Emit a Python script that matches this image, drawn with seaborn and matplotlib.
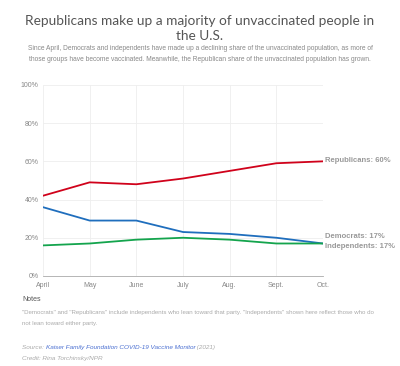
import matplotlib
matplotlib.use("Agg")
import matplotlib.pyplot as plt
import seaborn as sns
import pandas as pd

months = ["April", "May", "June", "July", "Aug.", "Sept.", "Oct."]
republicans = [42, 49, 48, 51, 55, 59, 60]
democrats = [36, 29, 29, 23, 22, 20, 17]
independents = [16, 17, 19, 20, 19, 17, 17]
series_names = ["Republicans", "Democrats", "Independents"]
colors = ["#d0021b", "#1f6ebd", "#14a44d"]
yticks = [0, 20, 40, 60, 80, 100]

rows = []
for name, vals in zip(series_names, [republicans, democrats, independents]):
    for i, (m, v) in enumerate(zip(months, vals)):
        rows.append({"idx": i, "month": m, "value": v, "party": name})
df = pd.DataFrame(rows)

sns.set_theme(style="white")
plt.rcParams['font.family'] = ['Liberation Sans', 'DejaVu Sans']

fig = plt.figure(figsize=(4, 3.66), dpi=100)
ax = fig.add_axes([0.1075, 0.246, 0.70, 0.522])

sns.lineplot(data=df, x="idx", y="value", hue="party", palette=dict(zip(series_names, colors)),
             linewidth=1.3, ax=ax, legend=False)

ax.set_xlim(0, len(months) - 1)
ax.set_ylim(0, 100)
ax.set_xticks(range(len(months)))
ax.set_xticklabels(months)
ax.set_yticks(yticks)
ax.set_yticklabels([f"{t}%" for t in yticks])
ax.tick_params(axis="both", labelsize=5, colors="#888888", length=0)
ax.tick_params(axis="x", pad=4)
ax.tick_params(axis="y", pad=3)
ax.grid(True, color="#eeeeee", linewidth=0.6)
for s in ["top", "right"]:
    ax.spines[s].set_visible(False)
ax.spines["left"].set_visible(False)
ax.spines["bottom"].set_color("#aaaaaa")
ax.spines["bottom"].set_linewidth(0.6)
ax.set_xlabel("")
ax.set_ylabel("")

lab_kw = dict(fontsize=5.5, color="#999999", fontweight="bold", va="center", ha="left")
ax.text(len(months) - 1 + 0.05, republicans[-1] + 0.5, f"Republicans: {republicans[-1]}%", **lab_kw)
ax.text(len(months) - 1 + 0.05, democrats[-1] + 3.5, f"Democrats: {democrats[-1]}%", **lab_kw)
ax.text(len(months) - 1 + 0.05, independents[-1] - 1.5, f"Independents: {independents[-1]}%", **lab_kw)

fig.text(0.5, 0.960, "Republicans make up a majority of unvaccinated people in\nthe U.S.",
         ha="center", va="top", fontsize=9.8, color="#555555", linespacing=1.3,
         family=["Lato", "DejaVu Sans"])
fig.text(0.5, 0.876, "Since April, Democrats and independents have made up a declining share of the unvaccinated population, as more of\nthose groups have become vaccinated. Meanwhile, the Republican share of the unvaccinated population has grown.",
         ha="center", va="top", fontsize=4.8, color="#888888", linespacing=1.75)

fig.text(0.055, 0.182, "Notes", fontsize=5, color="#555555", va="center")
fig.text(0.055, 0.145, "\"Democrats\" and \"Republicans\" include independents who lean toward that party. \"Independents\" shown here reflect those who do",
         fontsize=4.4, color="#aaaaaa", va="center")
fig.text(0.055, 0.115, "not lean toward either party.", fontsize=4.4, color="#aaaaaa", va="center")

renderer = fig.canvas.get_renderer()
x = 0.055
parts = [("Source: ", "#aaaaaa"), ("Kaiser Family Foundation COVID-19 Vaccine Monitor", "#4a6fd1"), (" (2021)", "#aaaaaa")]
for txt, col in parts:
    t = fig.text(x, 0.050, txt, fontsize=4.6, color=col, va="center", style="italic")
    bb = t.get_window_extent(renderer=renderer)
    x += bb.width / fig.bbox.width
fig.text(0.055, 0.020, "Credit: Rina Torchinsky/NPR", fontsize=4.6, color="#aaaaaa", va="center", style="italic")

fig.savefig("out.png", dpi=100, facecolor="white")
